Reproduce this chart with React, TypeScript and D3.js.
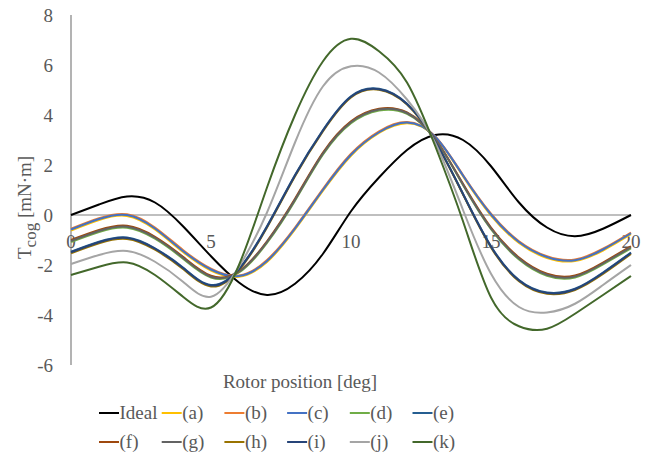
import React from 'react';
import * as d3 from 'd3';

// rotor position [deg]
const positions = [0, 1, 2, 3, 4, 5, 6, 7, 8, 9, 10, 11, 12, 13, 14, 15, 16, 17, 18, 19, 20];

// cogging torque [mN·m]
const ideal = [0, 0.42, 0.74, 0.5, -0.45, -1.65, -2.7, -3.2, -2.75, -1.55, 0.15, 1.5, 2.6, 3.2, 3.0, 1.95, 0.5, -0.5, -0.85, -0.55, 0];
const serA = [-0.62, -0.2, -0.04, -0.58, -1.48, -2.22, -2.47, -1.88, -0.58, 0.97, 2.37, 3.28, 3.67, 3.13, 1.55, -0.02, -1.12, -1.72, -1.84, -1.42, -0.77];
const serB = [-0.55, -0.13, 0.03, -0.5, -1.4, -2.15, -2.42, -1.8, -0.5, 1.05, 2.45, 3.35, 3.72, 3.15, 1.6, 0.05, -1.05, -1.65, -1.78, -1.35, -0.7];
const serC = [-0.58, -0.16, 0.0, -0.54, -1.44, -2.18, -2.44, -1.84, -0.54, 1.01, 2.41, 3.31, 3.7, 3.14, 1.58, 0.02, -1.08, -1.68, -1.81, -1.38, -0.73];
const serD = [-1.08, -0.68, -0.51, -0.95, -1.75, -2.5, -2.3, -1.12, 0.57, 2.42, 3.67, 4.18, 4.05, 3.04, 1.2, -0.57, -1.78, -2.43, -2.5, -1.98, -1.33];
const serE = [-1.47, -1.07, -0.9, -1.33, -2.1, -2.8, -2.15, -0.45, 1.6, 3.4, 4.75, 5.05, 4.45, 2.97, 0.85, -1.25, -2.6, -3.1, -2.95, -2.3, -1.5];
const serF = [-1.0, -0.6, -0.43, -0.87, -1.67, -2.43, -2.25, -1.05, 0.65, 2.5, 3.75, 4.25, 4.1, 3.06, 1.25, -0.5, -1.7, -2.35, -2.42, -1.9, -1.25];
const serG = [-1.04, -0.64, -0.47, -0.91, -1.71, -2.47, -2.27, -1.08, 0.61, 2.46, 3.71, 4.22, 4.08, 3.05, 1.22, -0.54, -1.74, -2.39, -2.46, -1.94, -1.29];
const serH = [-1.53, -1.13, -0.96, -1.39, -2.16, -2.86, -2.2, -0.5, 1.55, 3.35, 4.7, 5.01, 4.42, 2.95, 0.82, -1.3, -2.65, -3.15, -3.0, -2.36, -1.56];
const serI = [-1.49, -1.09, -0.92, -1.35, -2.12, -2.82, -2.17, -0.47, 1.58, 3.38, 4.73, 5.03, 4.44, 2.96, 0.84, -1.27, -2.62, -3.12, -2.97, -2.32, -1.52];
const serJ = [-1.96, -1.6, -1.44, -1.87, -2.67, -3.27, -2.07, 0.1, 2.9, 5.15, 5.95, 5.7, 4.62, 2.9, 0.2, -2.35, -3.68, -3.9, -3.55, -2.8, -2.0];
const serK = [-2.4, -2.07, -1.9, -2.4, -3.27, -3.7, -2.0, 1.1, 4.0, 6.15, 7.05, 6.55, 5.3, 2.78, -0.25, -3.3, -4.45, -4.55, -3.95, -3.2, -2.44];

const names = ['Ideal', '(a)', '(b)', '(c)', '(d)', '(e)', '(f)', '(g)', '(h)', '(i)', '(j)', '(k)'];
const colors = ['#000000', '#FFC000', '#ED7D31', '#4472C4', '#70AD47', '#255E91', '#9E480E', '#636363', '#997300', '#264478', '#A5A5A5', '#43682B'];
const values = [ideal, serA, serB, serC, serD, serE, serF, serG, serH, serI, serJ, serK];

const yTicks = [-6, -4, -2, 0, 2, 4, 6, 8];
const xTicks = [0, 5, 10, 15, 20];

const W = 653, H = 454;
const font = '"Liberation Serif", "Times New Roman", serif';
const textGrey = '#595959';

export default function App() {
    const x = d3.scaleLinear().domain([0, 20]).range([71, 631]);
    const y = d3.scaleLinear().domain([-6, 8]).range([365, 15]);

    const line = d3.line<number>()
        .x((d, i) => x(positions[i]))
        .y((d) => y(d))
        .curve(d3.curveNatural);

    return (
        <svg width={W} height={H} style={{position: 'absolute', left: 0, top: 0, background: '#fff'}}
             fontFamily={font}>
            {/* axes */}
            <line x1={x(0)} x2={x(0)} y1={y(8)} y2={y(-6)} stroke="#808080" strokeWidth={1.2}/>
            <line x1={x(0)} x2={x(20)} y1={y(0)} y2={y(0)} stroke="#808080" strokeWidth={1.2}/>

            {yTicks.map((t) => (
                <text key={'y' + t} x={53} y={y(t) + 7} textAnchor="end" fontSize={19} fill={textGrey}>{t}</text>
            ))}
            {xTicks.map((t) => (
                <text key={'x' + t} x={x(t)} y={248} textAnchor="middle" fontSize={19} fill={textGrey}>{t}</text>
            ))}

            {/* series */}
            {values.map((v, i) => (
                <path key={names[i]} d={line(v) || ''} fill="none" stroke={colors[i]} strokeWidth={2}
                      strokeLinejoin="round"/>
            ))}

            {/* axis titles */}
            <text x={300} y={388} textAnchor="middle" fontSize={19} fill={textGrey}>Rotor position [deg]</text>
            <text transform="translate(31,259) rotate(-90)" fontSize={19} fill={textGrey}>
                T<tspan fontSize={17} dy={5}>cog</tspan><tspan dy={-5}> [mN·m]</tspan>
            </text>

            {/* legend */}
            {names.map((n, i) => {
                const col = i % 6, row = Math.floor(i / 6);
                const lx = 99 + col * 62.7;
                const ly = 413 + row * 29;
                return (
                    <g key={'lg' + n}>
                        <line x1={lx} x2={lx + 20} y1={ly} y2={ly} stroke={colors[i]} strokeWidth={2}/>
                        <text x={lx + 20.5} y={ly + 6} fontSize={19} fill={textGrey}>{n}</text>
                    </g>
                );
            })}
        </svg>
    );
}
